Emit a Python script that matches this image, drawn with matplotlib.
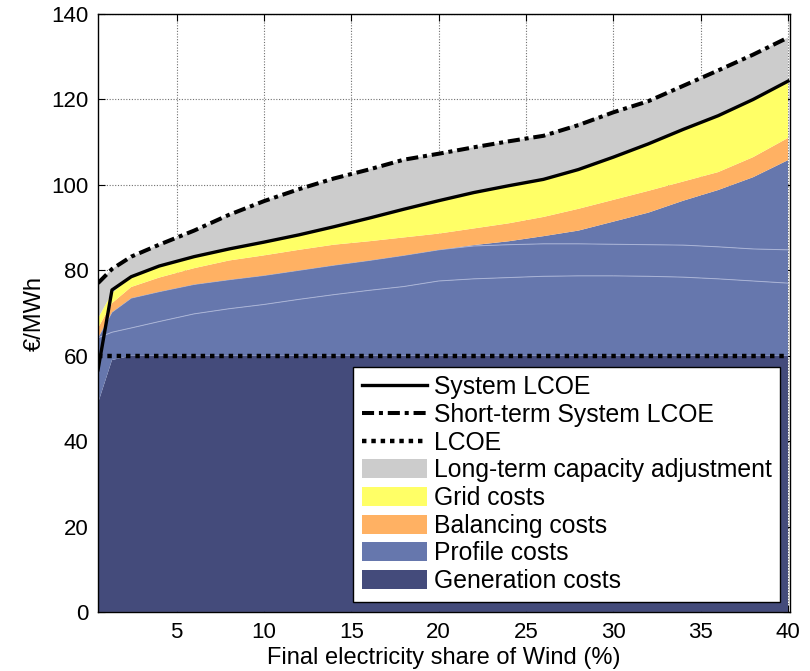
import numpy as np
import matplotlib
matplotlib.use('Agg')
import matplotlib.pyplot as plt
from matplotlib.lines import Line2D
from matplotlib.patches import Patch

plt.rcParams['font.family'] = ['Liberation Sans', 'DejaVu Sans']

# wind share (%)
share = [0.5, 1.3, 2.4, 4, 6, 8, 10, 12, 14, 16, 18, 20, 22, 24, 26, 28, 30, 32, 34, 36, 38, 40]

# cost components (EUR/MWh), stacked from bottom
generation = [48.9, 59, 60, 60, 60, 60, 60, 60, 60, 60, 60, 60, 60, 60, 60, 60, 60, 60, 60, 60, 60, 60]
profile_a = [15.3, 6.5, 6.5, 8, 9.8, 11, 12, 13.2, 14.3, 15.3, 16.2, 17.5, 18, 18.3, 18.6, 18.7, 18.7, 18.6, 18.4, 18, 17.5, 17]
profile_b = [0, 4.7, 7, 7, 6.9, 6.8, 6.8, 6.8, 6.9, 7, 7.3, 7.3, 7.7, 7.7, 7.6, 7.5, 7.4, 7.4, 7.5, 7.5, 7.5, 7.8]
profile_c = [0, 0, 0, 0, 0, 0, 0, 0, 0, 0, 0, 0, 0.2, 0.8, 1.8, 3.1, 5.3, 7.5, 10.4, 13.3, 16.8, 21]
balancing = [2.3, 2.1, 2.6, 3.3, 3.8, 4.5, 4.7, 4.8, 4.8, 4.5, 4.2, 3.8, 3.9, 4.2, 4.5, 5.1, 5.1, 5.1, 4.5, 4.2, 4.7, 5.2]
grid = [2.3, 2.4, 2.4, 2.7, 2.7, 2.7, 3.1, 3.5, 4.2, 5.4, 6.6, 7.7, 8.4, 8.8, 8.8, 9.2, 10, 11, 12.2, 13.2, 13.5, 13.3]
lt_capacity = [8.2, 5.6, 4.7, 5, 6.1, 8, 9.6, 10.7, 11.3, 11.4, 11.6, 11, 10.6, 10.4, 10.2, 10.9, 10.5, 10, 10.2, 10.6, 10.5, 10.2]

# lines
system_lcoe = [56.7, 75.4, 78.5, 81, 83.2, 85, 86.6, 88.3, 90.2, 92.2, 94.3, 96.3, 98.2, 99.8, 101.3, 103.6, 106.5, 109.6, 113, 116.2, 120, 124.3]
short_term_lcoe = [77, 80.3, 83.2, 86, 89.3, 93, 96.2, 99, 101.5, 103.6, 105.9, 107.3, 108.8, 110.2, 111.5, 114, 117, 119.6, 123.2, 126.8, 130.5, 134.5]
lcoe = [60] * len(share)

c_gen = '#444B7B'
c_prof = '#6677AD'
c_bal = '#FFB163'
c_grid = '#FFFF66'
c_lt = '#CCCCCC'

fig = plt.figure(figsize=(8.1, 6.71), dpi=100)
ax = fig.add_axes([0.121, 0.088, 0.854, 0.891])

polys = ax.stackplot(share, generation, profile_a, profile_b, profile_c, balancing, grid, lt_capacity,
                     colors=[c_gen, c_prof, c_prof, c_prof, c_bal, c_grid, c_lt], linewidth=0)
for p in polys:
    p.set_zorder(2)
for p in polys[:4]:
    p.set_zorder(1)

# faint edges between the profile sub-layers
x = np.array(share)
top_a = np.array(generation) + np.array(profile_a)
top_b = top_a + np.array(profile_b)
ax.plot(x, top_a, color='#A9B3D6', lw=0.7, zorder=1.5)
ax.plot(x, top_b, color='#A9B3D6', lw=0.7, zorder=1.5)

ax.plot(share, lcoe, color='black', lw=3.2, linestyle=(0, (1, 1.1)), zorder=3)
ax.plot(share, short_term_lcoe, color='black', lw=2.9, linestyle=(0, (3, 1.2, 1, 1.2)), zorder=3)
ax.plot(share, system_lcoe, color='black', lw=2.4, zorder=4)

ax.set_xlim(0.5, 40.1)
ax.set_ylim(0, 140)
ax.set_xticks(range(5, 41, 5))
ax.set_yticks(range(0, 141, 20))
ax.set_axisbelow(True)
ax.grid(True, color='#707070', linestyle=(0, (1, 1.5)), linewidth=0.8)
ax.tick_params(direction='in', top=True, right=True, labelsize=16, length=5, width=0.8, pad=7)
for s in ax.spines.values():
    s.set_linewidth(1.0)
    s.set_zorder(5)

ax.set_xlabel('Final electricity share of Wind (%)', fontsize=17, labelpad=3)
ax.set_ylabel('€/MWh', fontsize=17, labelpad=4)

handles = [
    Line2D([], [], color='black', lw=2.4),
    Line2D([], [], color='black', lw=2.9, linestyle=(0, (3, 1.2, 1, 1.2))),
    Line2D([], [], color='black', lw=3.2, linestyle=(0, (1, 1.1))),
    Patch(facecolor=c_lt), Patch(facecolor=c_grid), Patch(facecolor=c_bal),
    Patch(facecolor=c_prof), Patch(facecolor=c_gen),
]
labels = ['System LCOE', 'Short-term System LCOE', 'LCOE', 'Long-term capacity adjustment',
          'Grid costs', 'Balancing costs', 'Profile costs', 'Generation costs']
leg = ax.legend(handles, labels, loc='lower right', bbox_to_anchor=(0.986, 0.017), borderaxespad=0,
                fontsize=17.8, fancybox=False, edgecolor='black', framealpha=1,
                handlelength=2.65, handleheight=0.8, labelspacing=0.15, handletextpad=0.25,
                borderpad=0.35)
leg.get_frame().set_linewidth(1.0)
leg.set_zorder(6)

fig.savefig('out.png', dpi=100)
